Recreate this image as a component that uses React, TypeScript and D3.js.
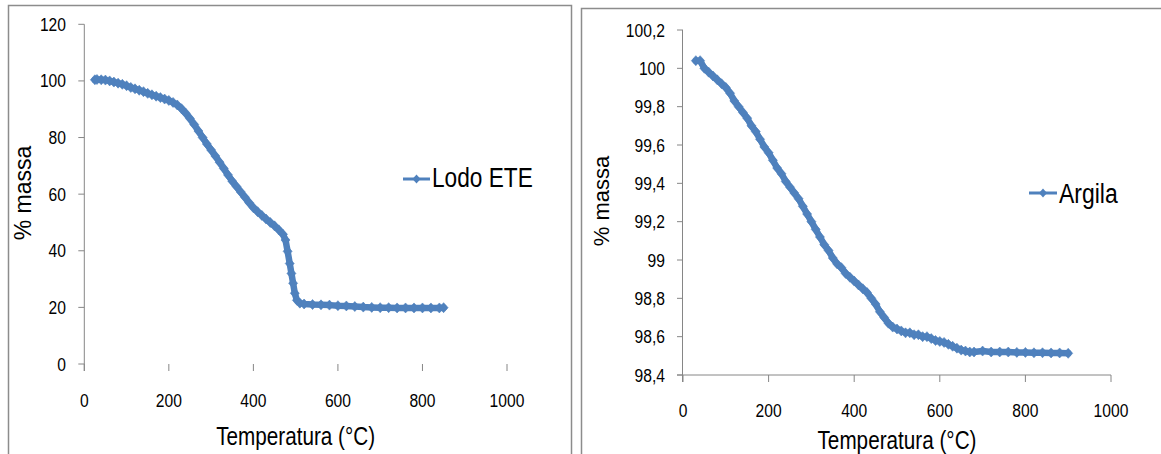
import React from "react";
import * as d3 from "d3";

// ---------- data ----------
const LODO_NAME = "Lodo ETE";
const LODO_T = [25, 30, 40, 50, 60, 70, 80, 90, 100, 110, 120, 130, 140, 150, 160, 170, 180, 190, 200, 210, 220, 230, 240, 250, 260, 270, 280, 290, 300, 310, 320, 330, 340, 350, 360, 370, 380, 390, 400, 410, 420, 430, 440, 450, 460, 470, 476, 481, 486, 490, 494, 498, 503, 510, 520, 540, 560, 580, 600, 620, 640, 660, 680, 700, 720, 740, 760, 780, 800, 820, 840, 850];
const LODO_M = [100.4, 100.5, 100.4, 100.3, 100.0, 99.6, 99.2, 98.8, 98.3, 97.7, 97.2, 96.7, 96.2, 95.6, 95.1, 94.6, 94.1, 93.6, 93.1, 92.4, 91.5, 90.2, 88.6, 86.7, 84.6, 82.3, 80.0, 77.7, 75.6, 73.5, 71.3, 69.1, 66.8, 64.6, 62.7, 60.8, 58.9, 57.0, 55.2, 53.8, 52.5, 51.2, 50.0, 48.8, 47.4, 45.8, 43.8, 39.8, 35.5, 32.0, 28.5, 25.0, 22.5, 21.5, 21.2, 21.0, 20.9, 20.8, 20.6, 20.5, 20.3, 20.1, 20.0, 19.9, 19.9, 19.8, 19.8, 19.8, 19.8, 19.8, 19.8, 19.9];

const ARG_NAME = "Argila";
const ARG_T = [30, 40, 50, 60, 70, 80, 90, 100, 110, 120, 130, 140, 150, 160, 170, 180, 190, 200, 210, 220, 230, 240, 250, 260, 270, 280, 290, 300, 310, 320, 330, 340, 350, 360, 370, 380, 390, 400, 410, 420, 430, 440, 450, 460, 470, 480, 490, 500, 510, 520, 530, 540, 550, 560, 570, 580, 590, 600, 610, 620, 630, 640, 650, 660, 670, 680, 700, 720, 740, 760, 780, 800, 820, 840, 860, 880, 900];
const ARG_M = [100.04, 100.04, 100.0, 99.98, 99.96, 99.94, 99.92, 99.9, 99.87, 99.83, 99.8, 99.77, 99.74, 99.7, 99.67, 99.63, 99.59, 99.56, 99.52, 99.48, 99.45, 99.41, 99.38, 99.35, 99.32, 99.28, 99.24, 99.2, 99.16, 99.12, 99.08, 99.05, 99.01, 98.98, 98.96, 98.93, 98.91, 98.89, 98.87, 98.85, 98.83, 98.8, 98.77, 98.73, 98.7, 98.67, 98.65, 98.64, 98.63, 98.62, 98.62, 98.61, 98.61, 98.6, 98.6, 98.59, 98.58, 98.575, 98.57, 98.56, 98.55, 98.54, 98.53, 98.525, 98.52, 98.52, 98.525, 98.52, 98.52, 98.52, 98.518, 98.518, 98.516, 98.516, 98.515, 98.515, 98.513];

const X_TICKS = [0, 200, 400, 600, 800, 1000];
const LODO_Y_TICKS = [0, 20, 40, 60, 80, 100, 120];
const ARG_Y_TICKS = [98.4, 98.6, 98.8, 99.0, 99.2, 99.4, 99.6, 99.8, 100.0, 100.2];

const X_TITLE = "Temperatura (°C)";
const Y_TITLE = "% massa";

// ---------- style ----------
const BLUE = "#4F81BD";
const AXIS = "#868686";
const BORDER = "#8c8c8c";
const FONT = "'Liberation Sans', Arial, sans-serif";

const fmtComma = (v: number) => {
  const s = d3.format(".1f")(v);
  return (s.endsWith(".0") ? s.slice(0, -2) : s).replace(".", ",");
};

function Txt(props: {
  x: number; y: number; size: number; sx?: number; sy?: number; anchor?: string; rotate?: number; children: React.ReactNode;
}) {
  const { x, y, size, sx = 1, sy = 1, anchor = "middle", rotate = 0, children } = props;
  return (
    <text
      transform={`translate(${x},${y}) rotate(${rotate}) scale(${sx},${sy})`}
      textAnchor={anchor as any}
      fontSize={size}
      fontFamily={FONT}
      fill="#000"
    >
      {children}
    </text>
  );
}

const diamond = (r: number, rx: number) => `M0,${-r}L${rx},0L0,${r}L${-rx},0Z`;

function Series(props: { xs: number[]; ys: number[]; x: d3.ScaleLinear<number, number>; y: d3.ScaleLinear<number, number> }) {
  const { xs, ys, x, y } = props;
  const pts = xs.map((t, i) => [t, ys[i]] as [number, number]);
  const line = d3.line<[number, number]>().x((d) => x(d[0])).y((d) => y(d[1]));
  return (
    <g>
      <path d={line(pts) || ""} fill="none" stroke={BLUE} strokeWidth={6.5} strokeLinejoin="round" strokeLinecap="round" />
      {pts.map((d, i) => (
        <path key={i} d={diamond(5, 4.5)} transform={`translate(${x(d[0])},${y(d[1])})`} fill={BLUE} stroke={BLUE} strokeWidth={0.6} />
      ))}
    </g>
  );
}

function Legend(props: { x0: number; x1: number; y: number; tx: number; ty: number; size: number; sx: number; name: string }) {
  const { x0, x1, y, tx, ty, size, sx, name } = props;
  return (
    <g>
      <line x1={x0} x2={x1} y1={y} y2={y} stroke={BLUE} strokeWidth={3} />
      <path d={diamond(4.5, 4)} transform={`translate(${(x0 + x1) / 2},${y})`} fill={BLUE} />
      <Txt x={tx} y={ty} size={size} sx={sx} anchor="start">{name}</Txt>
    </g>
  );
}

export default function App() {
  // Left chart scales
  const xL = d3.scaleLinear().domain([0, 1000]).range([84.3, 507]);
  const yL = d3.scaleLinear().domain([0, 120]).range([364, 24.3]);
  // Right chart scales
  const xR = d3.scaleLinear().domain([0, 1000]).range([683, 1111]);
  const yR = d3.scaleLinear().domain([98.4, 100.2]).range([375, 30]);

  return (
    <svg width={1161} height={454} style={{ position: "absolute", left: 0, top: 0, background: "#fff" }}>
      <rect x={0} y={0} width={1161} height={454} fill="#fff" />
      {/* chart borders */}
      <rect x={8.5} y={5.5} width={563} height={470} fill="none" stroke={BORDER} strokeWidth={1.5} />
      <rect x={581.5} y={8.5} width={600} height={470} fill="none" stroke={BORDER} strokeWidth={1.5} />

      {/* ----- Left chart ----- */}
      <g>
        <line x1={xL(0)} x2={xL(0)} y1={yL(120)} y2={yL(0) + 7} stroke={AXIS} strokeWidth={1} />
        {LODO_Y_TICKS.map((v) => (
          <g key={v}>
            <line x1={xL(0) - 6} x2={xL(0)} y1={yL(v)} y2={yL(v)} stroke={AXIS} strokeWidth={1} />
            <Txt x={66} y={yL(v) + 6.5} size={17} sx={0.92} sy={1.08} anchor="end">{String(v)}</Txt>
          </g>
        ))}
        {X_TICKS.map((v) => (
          <g key={v}>
            <line x1={xL(v)} x2={xL(v)} y1={yL(0)} y2={yL(0) + 7} stroke={AXIS} strokeWidth={1} />
            <Txt x={xL(v)} y={407} size={17} sx={0.92} sy={1.08}>{String(v)}</Txt>
          </g>
        ))}
        <Txt x={(xL(0) + xL(1000)) / 2} y={445} size={23} sx={0.9} sy={1.08}>{X_TITLE}</Txt>
        <Txt x={31} y={193} size={23} rotate={-90}>{Y_TITLE}</Txt>
        <Series xs={LODO_T} ys={LODO_M} x={xL} y={yL} />
        <Legend x0={403} x1={430} y={179} tx={432} ty={187} size={28} sx={0.81} name={LODO_NAME} />
      </g>

      {/* ----- Right chart ----- */}
      <g>
        <line x1={xR(0) - 0.5} x2={xR(0) - 0.5} y1={yR(100.2)} y2={yR(98.4) + 7} stroke={AXIS} strokeWidth={1} />
        <line x1={xR(0) - 6} x2={xR(1000)} y1={yR(98.4)} y2={yR(98.4)} stroke={AXIS} strokeWidth={1} />
        {ARG_Y_TICKS.map((v) => (
          <g key={v}>
            <line x1={xR(0) - 6} x2={xR(0)} y1={yR(v)} y2={yR(v)} stroke={AXIS} strokeWidth={1} />
            <Txt x={665} y={yR(v) + 6.5} size={17} sx={0.92} sy={1.08} anchor="end">{fmtComma(v)}</Txt>
          </g>
        ))}
        {X_TICKS.map((v) => (
          <g key={v}>
            <line x1={xR(v)} x2={xR(v)} y1={yR(98.4)} y2={yR(98.4) + 7} stroke={AXIS} strokeWidth={1} />
            <Txt x={xR(v)} y={417} size={17} sx={0.92} sy={1.08}>{String(v)}</Txt>
          </g>
        ))}
        <Txt x={(xR(0) + xR(1000)) / 2} y={449} size={23} sx={0.9} sy={1.08}>{X_TITLE}</Txt>
        <Txt x={609} y={201} size={22} rotate={-90}>{Y_TITLE}</Txt>
        <Series xs={ARG_T} ys={ARG_M} x={xR} y={yR} />
        <Legend x0={1029} x1={1057} y={193} tx={1059} ty={203} size={27} sx={0.85} name={ARG_NAME} />
      </g>
    </svg>
  );
}
